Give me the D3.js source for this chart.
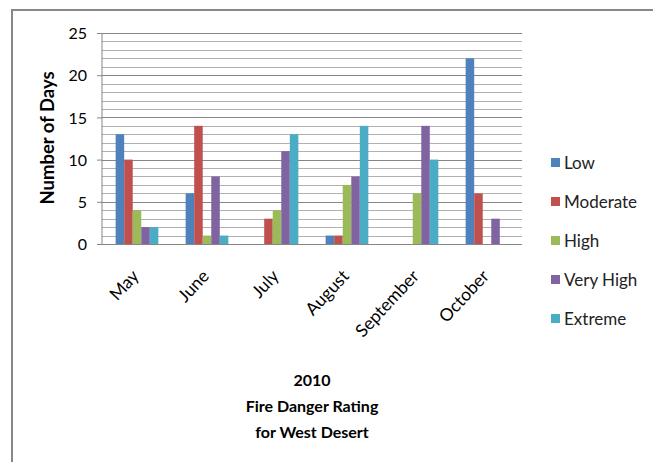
<!DOCTYPE html>
<html><head><meta charset="utf-8">
<script src="https://cdn.jsdelivr.net/npm/d3@7"></script>
<style>body{margin:0;background:#fff}svg{display:block}text{font-family:Lato,"Open Sans",sans-serif}</style>
</head><body><svg id="c" width="653" height="462"></svg>
<script>
const months = ["May","June","July","August","September","October"];
const seriesNames = ["Low","Moderate","High","Very High","Extreme"];
const colors = ["#4F81BD","#C0504D","#9BBB59","#8064A2","#4BACC6"];
const low = [13,6,0,1,0,22];
const moderate = [10,14,3,1,0,6];
const high = [4,1,4,7,6,0];
const veryHigh = [2,8,11,8,14,3];
const extreme = [2,1,13,14,10,0];
const yTicks = [0,5,10,15,20,25];
const titleLines = ["2010","Fire Danger Rating","for West Desert"];

const values = [low, moderate, high, veryHigh, extreme];
const svg = d3.select("#c");
const L = 102, R = 522, T = 33, B = 244;

// border
svg.append("path").attr("d",`M12,462 L12,10 L653,10`).attr("fill","none").attr("stroke","#888").attr("stroke-width",2);

const y = d3.scaleLinear().domain([0,25]).range([B,T]);
const x0 = d3.scaleBand().domain(months).range([L,R]).paddingInner(0.39).paddingOuter(0.195);
const x1 = d3.scaleBand().domain(seriesNames).range([0,x0.bandwidth()]);

// gridlines
const g = svg.append("g");
d3.range(1,26).forEach(v=>{
  g.append("line").attr("x1",L).attr("x2",R).attr("y1",Math.round(y(v))+0.5).attr("y2",Math.round(y(v))+0.5)
   .attr("stroke", v%5===0 ? "#868686" : "#b0b0b0").attr("stroke-width",1);
});

// bars
months.forEach((m,i)=>{
  seriesNames.forEach((s,j)=>{
    const v = values[j][i];
    if(v<=0) return;
    svg.append("rect").attr("x",x0(m)+x1(s)).attr("y",y(v)).attr("width",x1.bandwidth()).attr("height",B-y(v))
      .attr("fill",colors[j]);
  });
});

// axes
const ya = svg.append("g").attr("transform",`translate(${L},0)`)
  .call(d3.axisLeft(y).tickValues(yTicks).tickSize(5).tickPadding(6));
ya.select(".domain").attr("stroke","#868686").attr("d",`M0,${T}V${B}`);
ya.selectAll(".tick line").attr("stroke","#868686");
ya.selectAll("text").attr("font-size",16).attr("fill","#000").attr("dy","0.35em").attr("x",-15);

svg.append("line").attr("x1",L-5).attr("x2",R).attr("y1",B+0.5).attr("y2",B+0.5).attr("stroke","#868686");

const xa = svg.append("g").attr("transform",`translate(0,${B})`)
  .call(d3.axisBottom(x0).tickSize(0));
xa.select(".domain").remove();
xa.selectAll("text").attr("font-size",17.5).attr("fill","#000")
  .attr("text-anchor","end").attr("dy",0).attr("y",0)
  .attr("transform","translate(3,33) rotate(-47)");

// y title
svg.append("text").attr("transform","translate(54,138) rotate(-90)").attr("text-anchor","middle")
  .attr("font-size",18.5).attr("font-weight","bold").text("Number of Days");

// legend
seriesNames.forEach((s,j)=>{
  const yy = 163 + j*39;
  svg.append("rect").attr("x",551).attr("y",yy-5).attr("width",9).attr("height",9).attr("fill",colors[j]);
  svg.append("text").attr("x",564).attr("y",yy).attr("dy","0.35em").attr("font-size",17).attr("fill","#222").text(s);
});

// title
titleLines.forEach((t,i)=>{
  svg.append("text").attr("x",312).attr("y",380+i*26).attr("dy","0.35em").attr("text-anchor","middle")
    .attr("font-size",16).attr("font-weight","bold").text(t);
});
</script></body></html>
